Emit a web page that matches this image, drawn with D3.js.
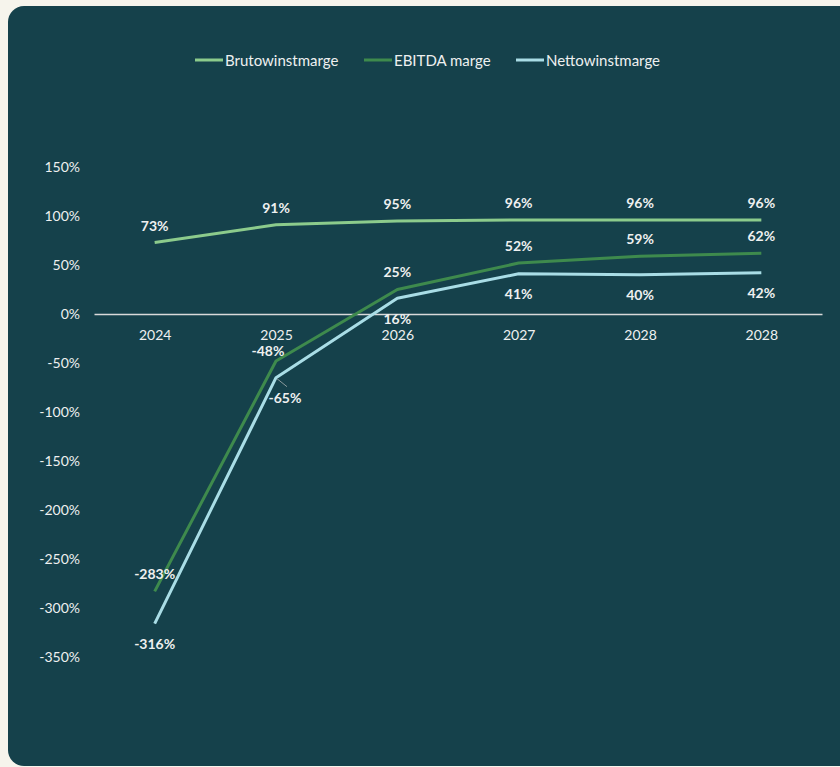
<!DOCTYPE html>
<html>
<head>
<meta charset="utf-8">
<script src="https://cdn.jsdelivr.net/npm/d3@7"></script>
<style>
html,body{margin:0;padding:0;background:#f6f4ec;}
svg{display:block;}
</style>
</head>
<body>
<svg id="chart" width="840" height="767"></svg>
<script>
const categories = ["2024", "2025", "2026", "2027", "2028", "2028"];
const bruto = [73, 91, 95, 96, 96, 96];
const ebitda = [-283, -48, 25, 52, 59, 62];
const netto = [-316, -65, 16, 41, 40, 42];
const yTicks = [150, 100, 50, 0, -50, -100, -150, -200, -250, -300, -350];
const seriesNames = ["Brutowinstmarge", "EBITDA marge", "Nettowinstmarge"];

const colors = ["#8ccb8c", "#3e8a4d", "#a9dde6"];
const font = "Lato, 'Open Sans', sans-serif";
const textColor = "#eef0f0";

const svg = d3.select("#chart");
svg.append("rect").attr("x", 8).attr("y", 6).attr("width", 850).attr("height", 760)
  .attr("rx", 16).attr("fill", "#15414b");

const idx = categories.map((d, i) => i);
const x = d3.scalePoint().domain(idx).range([94, 822]).padding(0.5);
const y = d3.scaleLinear().domain([-350, 150]).range([657, 167]);

// y axis labels
const yAxis = d3.axisLeft(y).tickValues(yTicks).tickFormat(d => d + "%").tickSize(0).tickPadding(0);
const gy = svg.append("g").attr("transform", "translate(80,0)").call(yAxis);
gy.select(".domain").remove();
gy.selectAll("text").attr("fill", textColor).style("font-family", font).style("font-size", "14px");

// x axis at zero
const xAxis = d3.axisBottom(x).tickFormat(i => categories[i]).tickSize(0).tickPadding(16);
const gx = svg.append("g").attr("transform", `translate(0,${y(0)})`).call(xAxis);
gx.select(".domain").attr("stroke", "#d9d9d9").attr("stroke-width", 1.3);
gx.selectAll("text").attr("fill", textColor).style("font-family", font).style("font-size", "14px");

const allSeries = [bruto, ebitda, netto];
const line = d3.line().x((d, i) => x(i)).y(d => y(d));
allSeries.forEach((s, k) => {
  svg.append("path").datum(s).attr("d", line).attr("fill", "none")
    .attr("stroke", colors[k]).attr("stroke-width", 3).attr("stroke-linejoin", "round");
});

// leader line for -65%
svg.append("line").attr("x1", x(1) + 1).attr("y1", y(netto[1]) + 1)
  .attr("x2", x(1) + 11).attr("y2", y(netto[1]) + 9)
  .attr("stroke", "#8a9a9c").attr("stroke-width", 1);

// data labels
function lab(xp, yp, t) {
  svg.append("text").attr("x", xp).attr("y", yp).attr("text-anchor", "middle")
    .attr("dominant-baseline", "central")
    .attr("fill", textColor).style("font-family", font).style("font-size", "14px")
    .style("font-weight", "bold").text(t);
}
bruto.forEach((v, i) => lab(x(i), y(v) - 17, v + "%"));
ebitda.forEach((v, i) => {
  if (i === 1) lab(x(i) - 8, y(v) - 11, v + "%");
  else lab(x(i), y(v) - 18, v + "%");
});
netto.forEach((v, i) => {
  if (i === 1) lab(x(i) + 9, y(v) + 20, v + "%");
  else lab(x(i), y(v) + 20, v + "%");
});

// legend
const legendX = [195, 364, 516];
seriesNames.forEach((n, k) => {
  svg.append("line").attr("x1", legendX[k]).attr("x2", legendX[k] + 28)
    .attr("y1", 60).attr("y2", 60).attr("stroke", colors[k]).attr("stroke-width", 3);
  svg.append("text").attr("x", legendX[k] + 30).attr("y", 60).attr("dominant-baseline", "central")
    .attr("fill", textColor).style("font-family", font).style("font-size", "15px").text(n);
});
</script>
</body>
</html>
